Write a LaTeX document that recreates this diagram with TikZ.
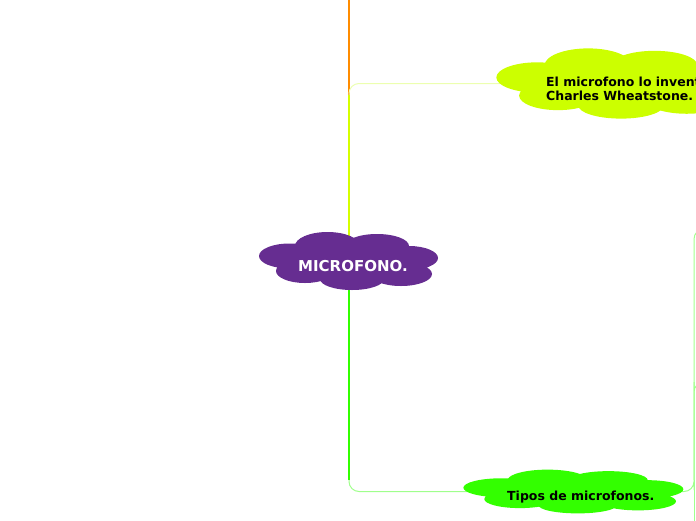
\documentclass[tikz,border=0pt]{standalone}
\usepackage{fontspec}
\setmainfont{DejaVu Sans}
\usetikzlibrary{backgrounds}
\definecolor{micpurple}{RGB}{102,45,145}
\definecolor{lima}{RGB}{204,255,0}
\definecolor{verde}{RGB}{51,255,0}
\definecolor{naranja}{RGB}{255,140,0}
\definecolor{limapale}{RGB}{236,255,175}
\definecolor{verdepale}{RGB}{160,255,140}
\tikzset{
  rama/.style={line width=1.8pt},
  ramita/.style={line width=1pt, rounded corners=10pt},
  texto/.style={inner sep=0pt, font=\bfseries\fontsize{12.5}{14}\selectfont}
}
% nube: nombre, centro, ancho, alto, color
\newcommand{\nube}[5]{%
  \coordinate (#1) at #2;
  \begin{scope}[shift={#2}, xscale=#3/179, yscale=#4/57]
    \fill[#5] (0,0) ellipse (70 and 18)
      (-59.5,-5) ellipse (30.5 and 12.5)
      (-21.5,-15) ellipse (32.5 and 14)
      (28,-15) ellipse (32 and 12)
      (60,-3) ellipse (29 and 12)
      (52,13) ellipse (31 and 12)
      (3,18) ellipse (32 and 11)
      (-44,10) ellipse (29 and 12);
  \end{scope}}

\begin{document}
\begin{tikzpicture}[x=1pt,y=-1pt]
			\useasboundingbox (0,0) rectangle (696,520);
			\clip (0,0) rectangle (696,520);
			% nubes
			\nube{mic}{(349,261)}{179}{57}{micpurple}
			\nube{inv}{(617,83.5)}{240}{69}{lima}
			\nube{tipos}{(574,491.5)}{220}{43}{verde}
			\node[texto, text=white, font=\bfseries\fontsize{15}{18}\selectfont, anchor=base west] (micT) at (298,271) {MICROFONO.};
			\node[texto, align=left, anchor=north west] (invT) at (546,76) {El microfono lo inventó\\Charles Wheatstone.};
			\node[texto, anchor=base west] (tiposT) at (507,500) {Tipos de microfonos.};
			% ramas
			\coordinate (arriba) at (349,-20);
			\coordinate (k1) at (349,95);
			\coordinate (k2) at (349,480);
			\coordinate (t1) at (694,480);
			\coordinate (h1) at (740,229);
			\coordinate (h2) at (740,382);
			\coordinate (h3) at (694,540);
			\begin{pgfonlayer}{background}
			\draw[rama, naranja] (k1) -- (arriba);
			\draw[rama, lima!80!yellow] (mic) -- (k1);
			\draw[ramita, limapale] (k1) |- (inv);
			\draw[rama, verde] (mic) -- (k2);
			\draw[ramita, verdepale] (k2) |- (tipos);
			\draw[ramita, verdepale] (tipos) -| (t1) |- (h1);
			\draw[ramita, verdepale] (t1) -- (694,392) |- (h2);
			\draw[ramita, verdepale] (t1) -- (h3);
			\end{pgfonlayer}
			\end{tikzpicture}
\end{document}
